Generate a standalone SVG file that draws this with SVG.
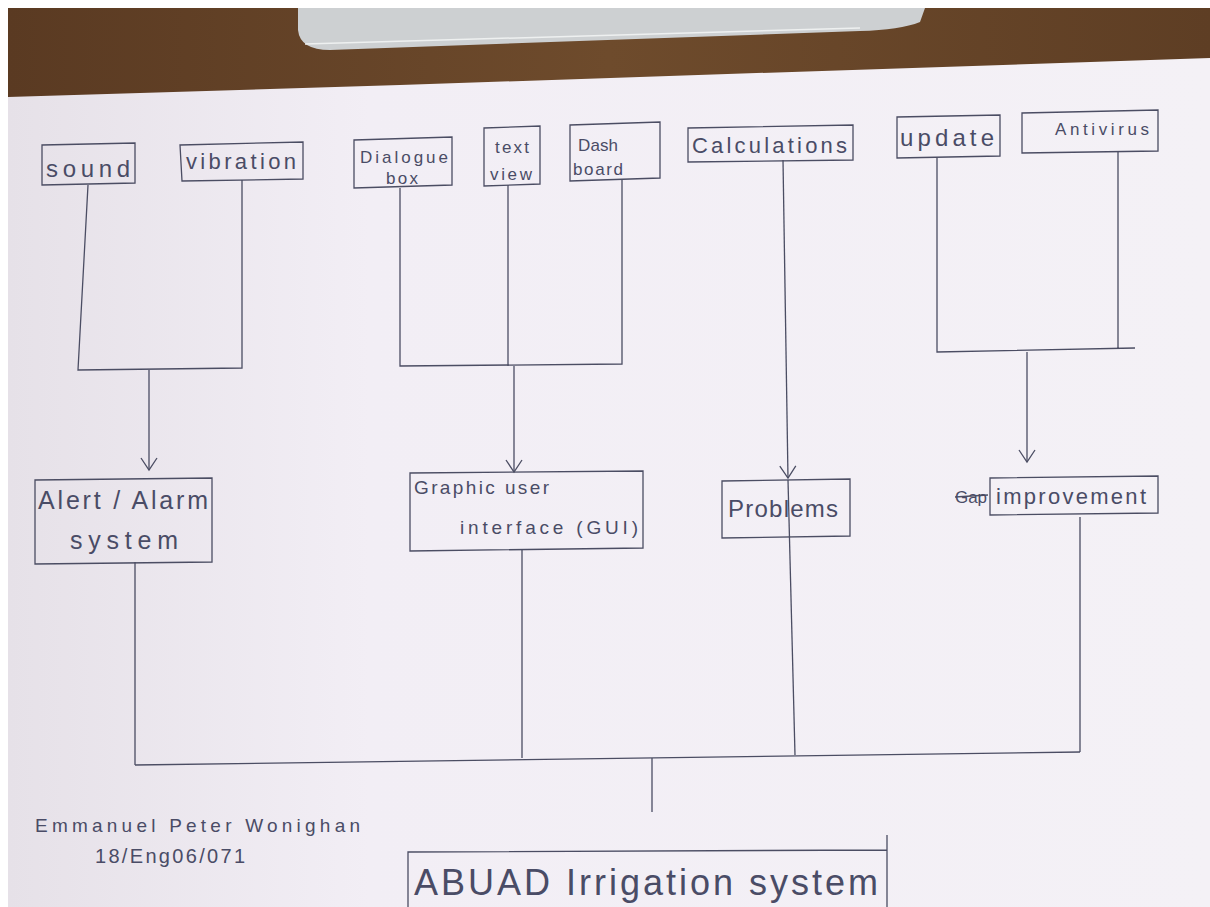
<svg xmlns="http://www.w3.org/2000/svg" width="1210" height="907" viewBox="0 0 1210 907">
<defs>
<style>
.box{fill:none;stroke:#4b4d63;stroke-width:1.3}
.ln{fill:none;stroke:#4b4d63;stroke-width:1.3}
.t{font-family:"Liberation Sans","DejaVu Sans",sans-serif;fill:#4a4c66;font-size:22px}
.tl{font-family:"Liberation Sans","DejaVu Sans",sans-serif;fill:#4a4c66;font-size:17px}
</style>
<marker id="arr" viewBox="0 0 20 20" refX="16" refY="10" markerWidth="20" markerHeight="20" markerUnits="userSpaceOnUse" orient="auto">
<path d="M4 2 L16 10 L4 18" fill="none" stroke="#4b4d63" stroke-width="1.3"/>
</marker>
<linearGradient id="paper" x1="0" y1="0" x2="1" y2="0">
<stop offset="0" stop-color="#e6e1e8"/>
<stop offset="0.3" stop-color="#f2eef5"/>
<stop offset="1" stop-color="#f4f1f6"/>
</linearGradient>
<linearGradient id="wood" x1="0" y1="0" x2="1" y2="0">
<stop offset="0" stop-color="#5a3a22"/>
<stop offset="0.5" stop-color="#6e4b2c"/>
<stop offset="1" stop-color="#5e3e24"/>
</linearGradient>
</defs>
<g id="background">
<rect x="0" y="0" width="1210" height="907" fill="#ffffff"/>
<rect x="8" y="8" width="1202" height="100" fill="url(#wood)"/>
<path d="M298 8 L925 8 L920 22 Q900 30 860 31 L330 50 Q300 50 298 30 Z" fill="#cdd0d2"/>
<path d="M305 44 L860 28" stroke="#eef0f0" stroke-width="1.5"/>
<path d="M8 97 L400 85 L1210 58 L1210 907 L8 907 Z" fill="url(#paper)"/>
</g>
<g id="connectors">
<path class="ln" d="M88 185 L78 370 L242 368 L242 180"/>
<path class="ln" d="M149 370 L149 470" marker-end="url(#arr)"/>
<path class="ln" d="M400 188 L400 366 L622 364 L622 180"/>
<path class="ln" d="M508 185 L508 366"/>
<path class="ln" d="M514 366 L514 472" marker-end="url(#arr)"/>
<path class="ln" d="M783 160 L788 478" marker-end="url(#arr)"/>
<path class="ln" d="M788 480 L795 755"/>
<path class="ln" d="M937 158 L937 352 L1135 348 M1118 152 L1118 348"/>
<path class="ln" d="M1027 352 L1027 462" marker-end="url(#arr)"/>
<path class="ln" d="M135 562 L135 765 M522 550 L522 758 M1080 517 L1080 752"/>
<path class="ln" d="M135 765 L1080 752"/>
<path class="ln" d="M652 758 L652 812"/>
</g>
<g id="n-sound"><path class="box" d="M42 145 L135 143 L135 183 L42 185 Z"/><text class="t" x="46" y="177" style="font-size:24px" textLength="84" lengthAdjust="spacing">sound</text></g>
<g id="n-vibration"><path class="box" d="M180 145 L303 142 L303 179 L182 181 Z"/><text class="t" x="186" y="169" textLength="110" lengthAdjust="spacing">vibration</text></g>
<g id="n-dialogue"><path class="box" d="M354 140 L452 137 L452 185 L354 188 Z"/><text class="tl" x="360" y="163" textLength="88" lengthAdjust="spacing">Dialogue</text><text class="tl" x="386" y="184" textLength="32" lengthAdjust="spacing">box</text></g>
<g id="n-textview"><path class="box" d="M484 128 L540 126 L540 184 L484 186 Z"/><text class="tl" x="495" y="153" textLength="34" lengthAdjust="spacing">text</text><text class="tl" x="490" y="180" textLength="42" lengthAdjust="spacing">view</text></g>
<g id="n-dashboard"><path class="box" d="M570 125 L660 122 L660 178 L570 181 Z"/><text class="tl" x="578" y="151" textLength="40" lengthAdjust="spacing">Dash</text><text class="tl" x="573" y="175" textLength="50" lengthAdjust="spacing">board</text></g>
<g id="n-calculations"><path class="box" d="M688 128 L853 125 L853 160 L688 162 Z"/><text class="t" x="692" y="153" textLength="155" lengthAdjust="spacing">Calculations</text></g>
<g id="n-update"><path class="box" d="M897 117 L1000 115 L1000 156 L897 158 Z"/><text class="t" x="900" y="146" style="font-size:24px" textLength="94" lengthAdjust="spacing">update</text></g>
<g id="n-antivirus"><path class="box" d="M1022 113 L1158 110 L1158 151 L1022 153 Z"/><text class="tl" x="1055" y="135" textLength="94" lengthAdjust="spacing">Antivirus</text></g>
<g id="n-alert"><path class="box" d="M35 480 L212 478 L212 562 L35 564 Z"/><text class="t" x="38" y="509" style="font-size:25px" textLength="170" lengthAdjust="spacing">Alert / Alarm</text><text class="t" x="70" y="549" style="font-size:25px" textLength="108" lengthAdjust="spacing">system</text></g>
<g id="n-gui"><path class="box" d="M410 473 L643 471 L643 548 L410 551 Z"/><text class="tl" x="414" y="494" style="font-size:19px" textLength="135" lengthAdjust="spacing">Graphic user</text><text class="tl" x="460" y="534" style="font-size:19px" textLength="178" lengthAdjust="spacing">interface (GUI)</text></g>
<g id="n-problems"><path class="box" d="M722 481 L850 479 L850 536 L722 538 Z"/><text class="t" x="728" y="517" style="font-size:24px" textLength="110" lengthAdjust="spacing">Problems</text></g>
<g id="n-improvement"><path class="box" d="M990 478 L1158 476 L1158 513 L990 515 Z"/><text class="t" x="996" y="504" textLength="150" lengthAdjust="spacing">improvement</text><text class="tl" x="955" y="503" textLength="32" lengthAdjust="spacing">Gap</text><path class="ln" d="M955 497 L988 495"/></g>
<g id="n-abuad"><path class="box" d="M408 907 L408 852 L887 850 M887 835 L887 907"/><text class="t" x="414" y="895" style="font-size:36px" textLength="464" lengthAdjust="spacing">ABUAD Irrigation system</text></g>
<g id="author"><text class="tl" x="35" y="832" style="font-size:19px" textLength="325" lengthAdjust="spacing">Emmanuel Peter Wonighan</text><text class="tl" x="95" y="863" style="font-size:20px" textLength="150" lengthAdjust="spacing">18/Eng06/071</text></g>
</svg>
